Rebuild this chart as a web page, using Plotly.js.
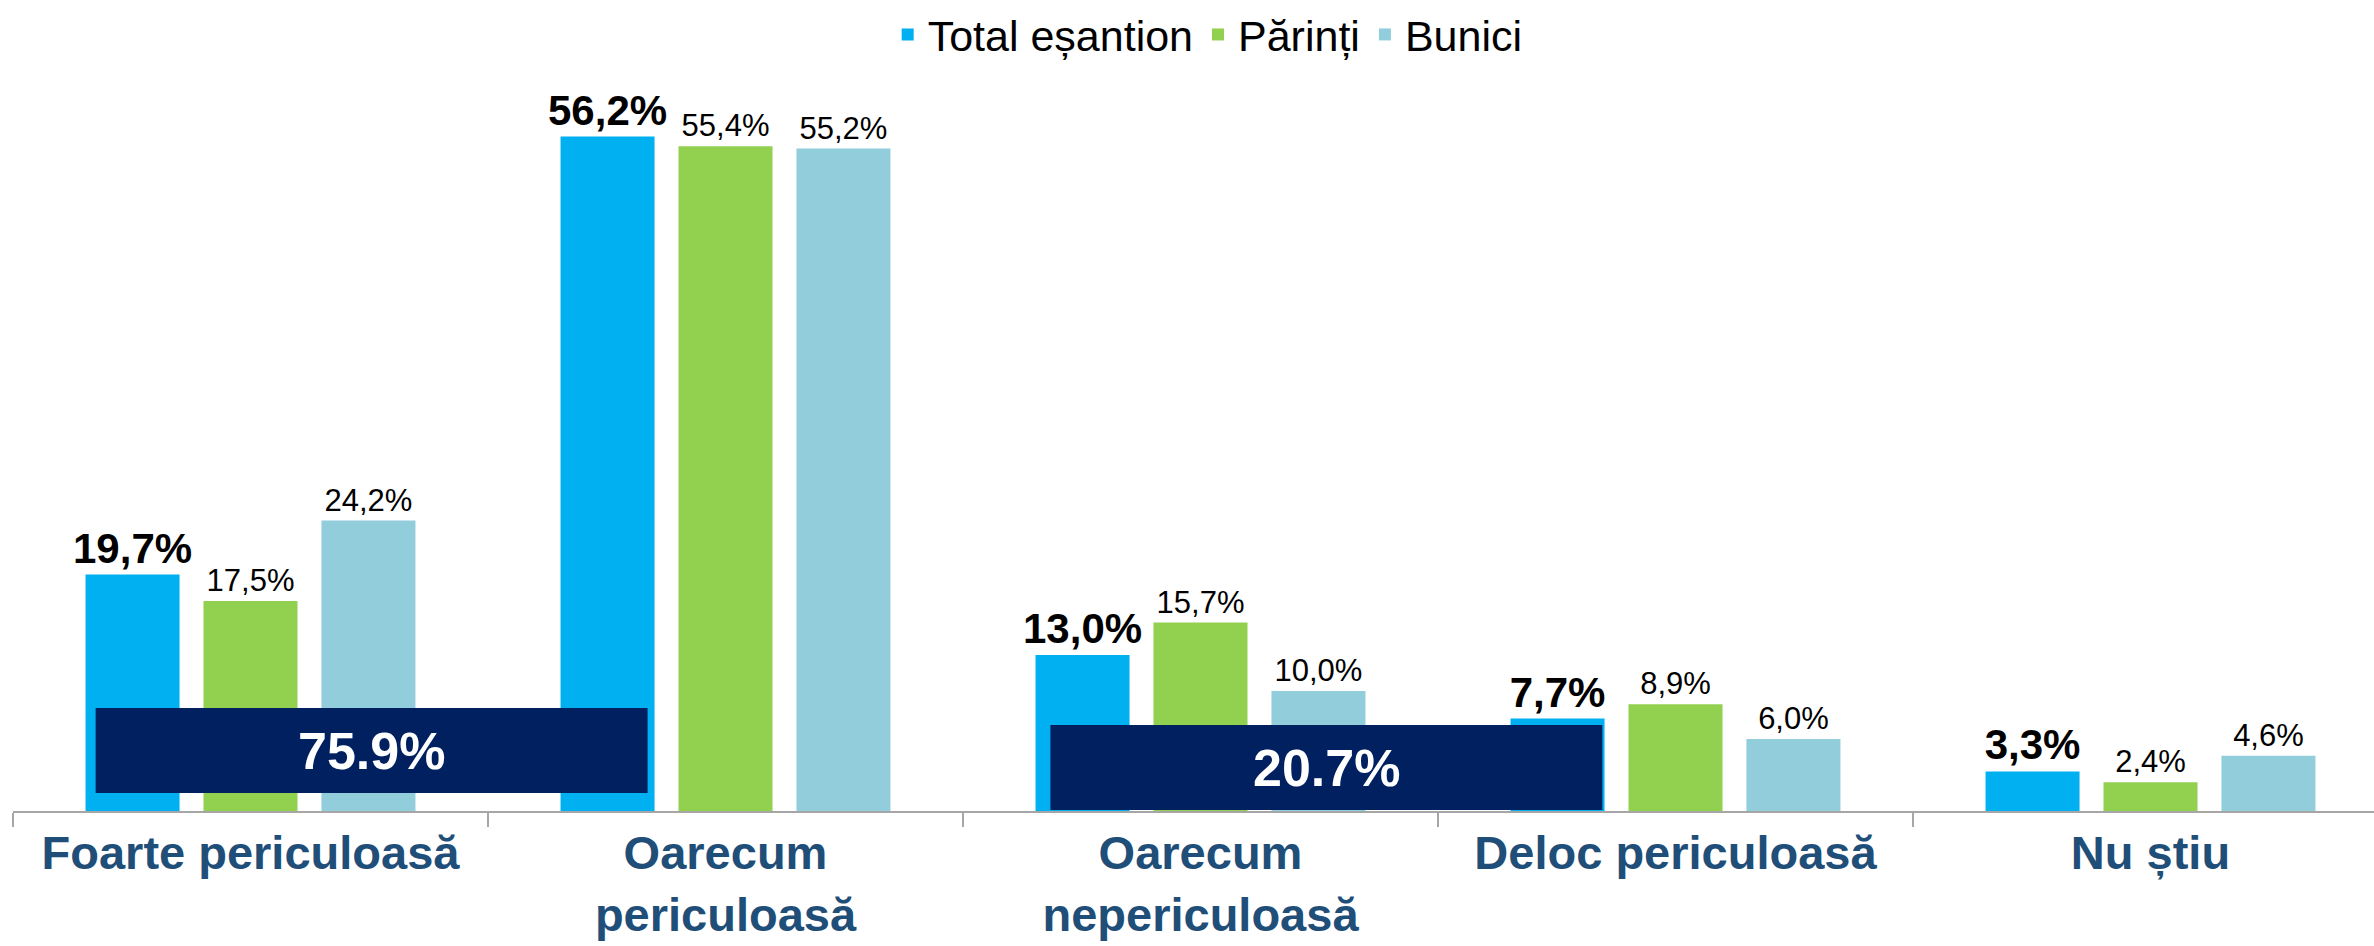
<!DOCTYPE html>
<html>
<head>
<meta charset="utf-8">
<script src="https://cdn.plot.ly/plotly-3.0.1.min.js"></script>
<style>
  html, body { margin: 0; padding: 0; background: #fff; }
  #chart { width: 2374px; height: 946px; }
</style>
</head>
<body>
<div id="chart"></div>
<script>
// categories and the three series (percent)
const categories = ['Foarte periculoasă', 'Oarecum<br>periculoasă', 'Oarecum<br>nepericuloasă', 'Deloc periculoasă', 'Nu știu'];
const totalEsantion = [19.7, 56.2, 13.0, 7.7, 3.3];
const parinti = [17.5, 55.4, 15.7, 8.9, 2.4];
const bunici = [24.2, 55.2, 10.0, 6.0, 4.6];

const FONT = 'Arial, "Liberation Sans", sans-serif';

// values are written with a decimal comma on the bars
const fmt = v => v.toFixed(1).replace('.', ',') + '%';

function barTrace(name, values, color, bold) {
    return {
        type: 'bar',
        name: name,
        x: categories,
        y: values,
        marker: { color: color },
        text: values.map(fmt),
        textposition: 'outside',
        constraintext: 'none',
        cliponaxis: false,
        textfont: bold
            ? { family: FONT, size: 42, color: '#000', weight: 'bold' }
            : { family: FONT, size: 31, color: '#000' },
        hoverinfo: 'x+y'
    };
}

const traces = [
    barTrace('Total eșantion', totalEsantion, '#00B0F0', true),
    barTrace('Părinți', parinti, '#92D050', false),
    barTrace('Bunici', bunici, '#92CDDC', false)
];

// net boxes: dangerous (first two answers) and not dangerous (next two)
const netDanger = totalEsantion[0] + totalEsantion[1];
const netSafe = totalEsantion[2] + totalEsantion[3];

const boxes = [
    { x0: -0.326, x1: 0.836, y0: 1.5, y1: 8.58, value: netDanger },
    { x0: 1.684, x1: 2.846, y0: 0.08, y1: 7.17, value: netSafe }
];

const layout = {
    width: 2374,
    height: 946,
    margin: { l: 13, r: 0, t: 70, b: 135 },
    paper_bgcolor: '#fff',
    plot_bgcolor: '#fff',
    font: { family: FONT },
    barmode: 'group',
    bargap: 0.255,
    bargroupgap: 0.203,
    showlegend: true,
    legend: {
        orientation: 'h',
        x: 0.506,
        xanchor: 'center',
        y: 1 + 70 / 741,
        yanchor: 'top',
        font: { family: FONT, size: 43, color: '#000' },
        traceorder: 'normal'
    },
    xaxis: {
        type: 'category',
        range: [-0.5, -0.5 + 2361 / 475],
        showline: true,
        linecolor: '#A6A6A6',
        linewidth: 2,
        ticks: 'outside',
        tickson: 'boundaries',
        ticklen: 14,
        tickwidth: 2,
        tickcolor: '#A6A6A6',
        showgrid: false,
        zeroline: false,
        tickfont: { family: FONT, size: 47, color: '#1F4E79', weight: 'bold' },
        fixedrange: true
    },
    yaxis: {
        range: [0, 741 / 12],
        visible: false,
        showgrid: false,
        zeroline: false,
        fixedrange: true
    },
    shapes: boxes.map(b => ({
        type: 'rect',
        xref: 'x', yref: 'y',
        x0: b.x0, x1: b.x1, y0: b.y0, y1: b.y1,
        fillcolor: '#002060',
        line: { width: 0 },
        layer: 'above'
    })),
    annotations: boxes.map(b => ({
        xref: 'x', yref: 'y',
        x: (b.x0 + b.x1) / 2,
        y: (b.y0 + b.y1) / 2,
        text: b.value.toFixed(1) + '%',
        showarrow: false,
        font: { family: FONT, size: 52, color: '#fff', weight: 'bold' }
    }))
};

Plotly.newPlot('chart', traces, layout, { displayModeBar: false, staticPlot: true });
</script>
</body>
</html>
